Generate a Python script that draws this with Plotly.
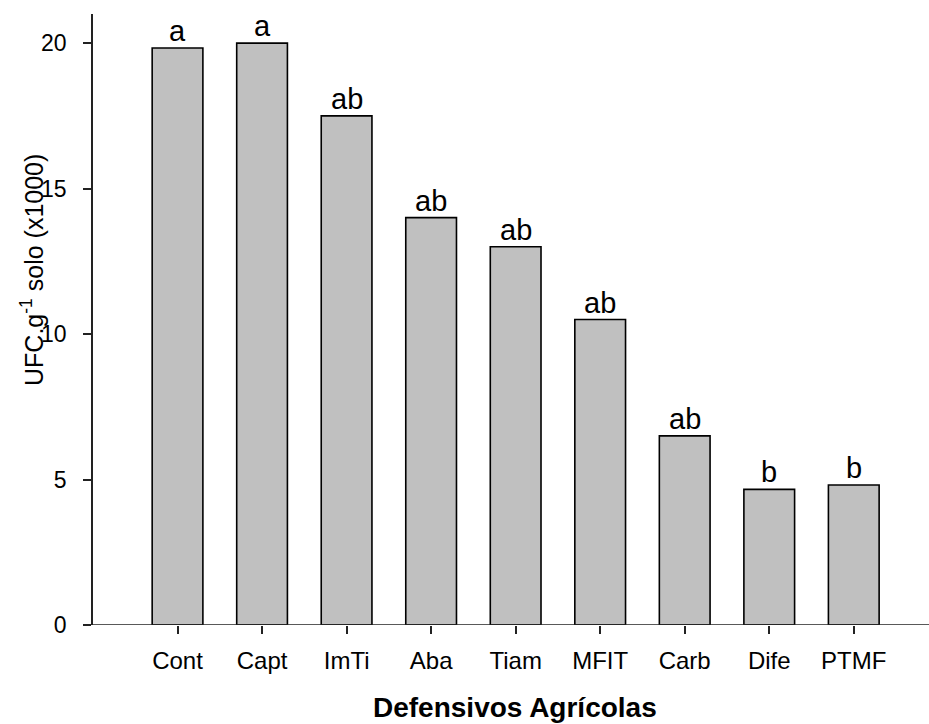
import plotly.graph_objects as go

# Treatments (pesticides) and colony counts, UFC per g of soil (x1000)
categories = ["Cont", "Capt", "ImTi", "Aba", "Tiam", "MFIT", "Carb", "Dife", "PTMF"]
values = [19.83, 20.0, 17.5, 14.0, 13.0, 10.5, 6.5, 4.66, 4.81]
letters = ["a", "a", "ab", "ab", "ab", "ab", "ab", "b", "b"]
y_ticks = [0, 5, 10, 15, 20]

FONT = "Liberation Sans, Arial, sans-serif"
W, H = 929, 724
ML, MR, MT, MB = 93, 0, 14, 99
PW, PH = W - ML - MR, H - MT - MB

fig = go.Figure()
fig.add_trace(go.Bar(
    x=categories,
    y=values,
    width=0.6,
    marker=dict(color="#c0c0c0", line=dict(color="#000000", width=1.6)),
    hoverinfo="x+y",
))

# significance letters above each bar
for c, v, t in zip(categories, values, letters):
    fig.add_annotation(
        x=c, y=v, text=t, showarrow=False,
        xanchor="center", yanchor="bottom", yshift=-1,
        font=dict(family=FONT, size=29, color="#000000"),
    )

# x-axis baseline, extending slightly left of the y-axis
fig.add_shape(
    type="line", xref="paper", yref="y",
    x0=-8 / PW, x1=1, y0=0, y1=0,
    line=dict(color="#222222", width=1.6),
)

# axis titles
fig.add_annotation(
    xref="paper", yref="paper",
    x=(32 - ML) / PW, y=(H - MB - 270) / PH,
    text="UFC.g<sup>-1</sup> solo (x1000)", textangle=-90,
    showarrow=False, xanchor="center", yanchor="middle",
    font=dict(family=FONT, size=25, color="#000000"),
)
fig.add_annotation(
    xref="paper", yref="paper",
    x=(515 - ML) / PW, y=-(707 - (H - MB)) / PH,
    text="<b>Defensivos Agrícolas</b>",
    showarrow=False, xanchor="center", yanchor="middle",
    font=dict(family=FONT, size=28, color="#000000"),
)

fig.update_layout(
    width=W, height=H,
    margin=dict(l=ML, r=MR, t=MT, b=MB, pad=0),
    paper_bgcolor="#ffffff", plot_bgcolor="#ffffff",
    showlegend=False,
    bargap=0.4,
    xaxis=dict(
        type="category",
        range=[-1, 8.89],
        showline=False, showgrid=False, zeroline=False,
        ticks="outside", ticklen=8, tickwidth=1.6, tickcolor="#222222",
        tickfont=dict(family=FONT, size=24, color="#000000"),
        ticklabelstandoff=6,
    ),
    yaxis=dict(
        range=[0, 21],
        tickvals=y_ticks,
        showline=True, linecolor="#222222", linewidth=1.6,
        showgrid=False, zeroline=False,
        ticks="outside", ticklen=8, tickwidth=1.6, tickcolor="#222222",
        tickfont=dict(family=FONT, size=23, color="#000000"),
        ticklabelstandoff=12,
    ),
)

fig.write_html("out.html")
